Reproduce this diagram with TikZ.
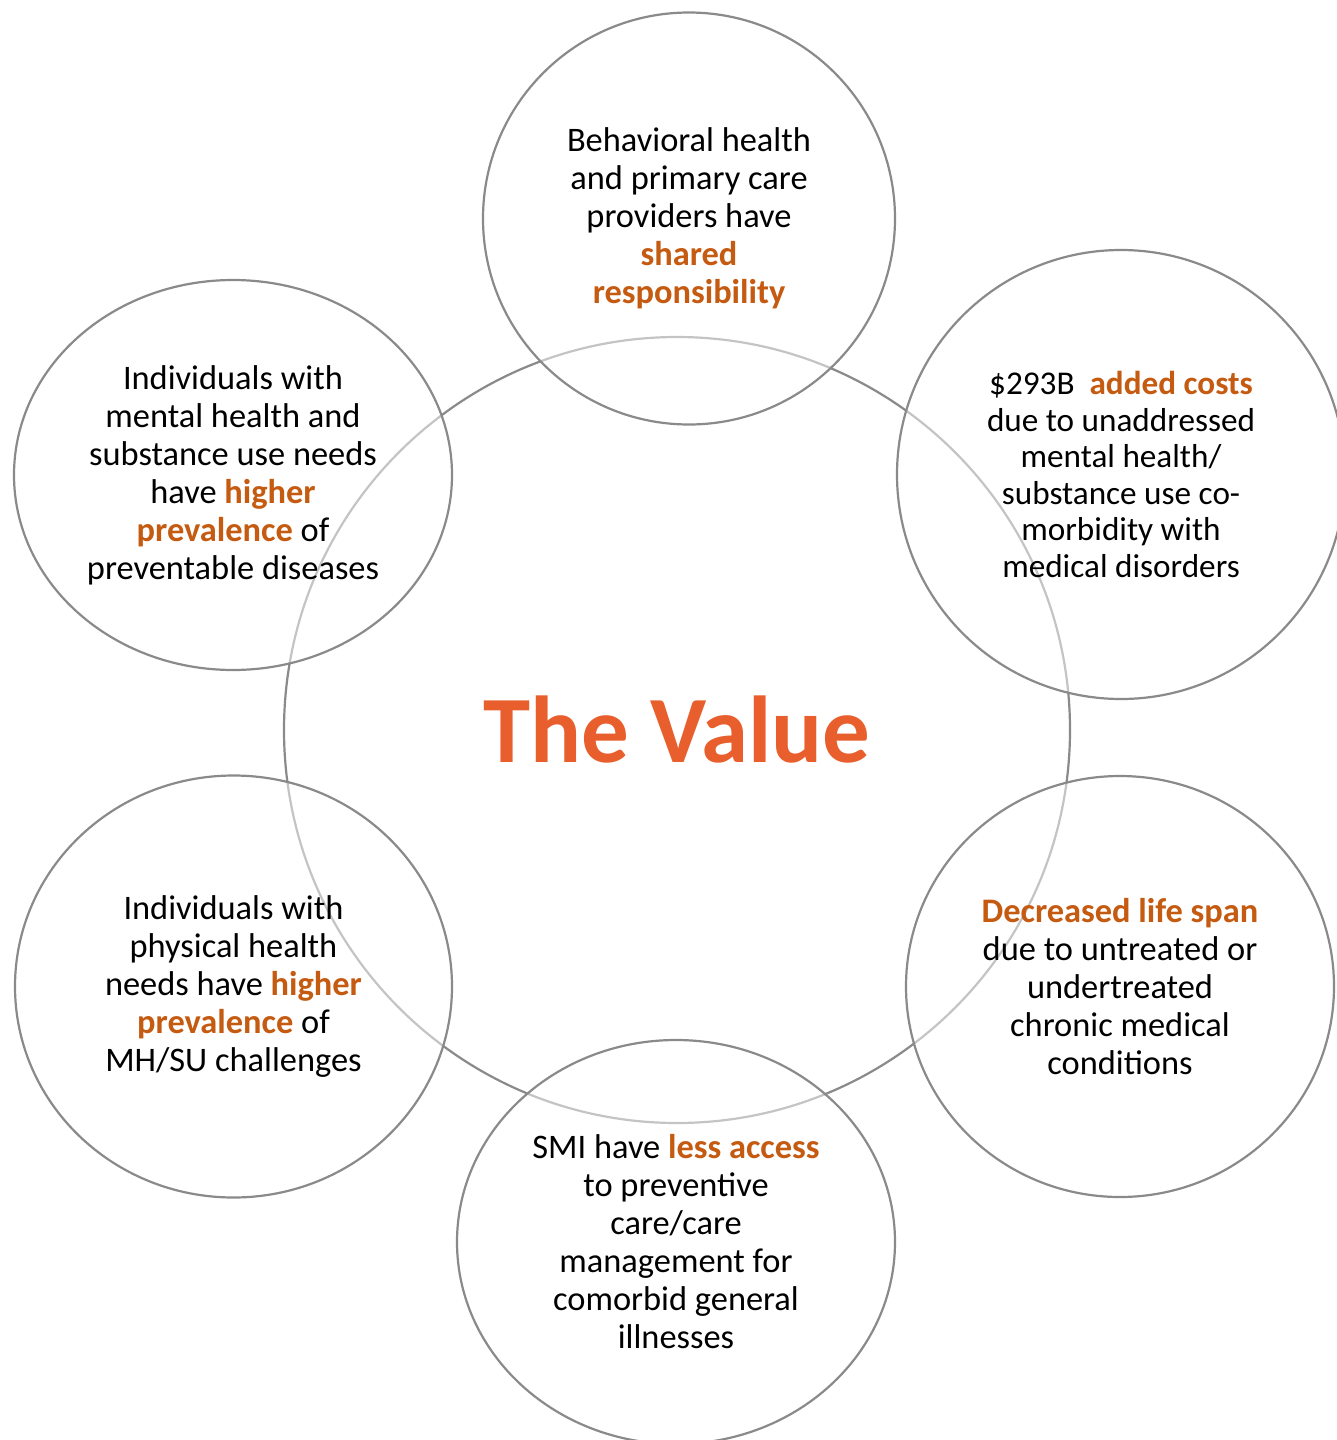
\documentclass[tikz,border=0pt]{standalone}
\usepackage{fontspec}
\setmainfont{Carlito}
\usepackage{xcolor}
\usetikzlibrary{shapes.geometric}
\definecolor{RingGray}{RGB}{138,138,138}
\definecolor{KeyOrange}{RGB}{197,90,17}
\definecolor{TitleOrange}{RGB}{232,94,44}
\newcommand{\hl}[1]{\textbf{\textcolor{KeyOrange}{#1}}}

\begin{document}
\begin{tikzpicture}[x=0.5pt,y=-0.5pt,every node/.style={font=\fontsize{17.2}{19}\selectfont}]
\tikzset{bubble/.style={ellipse,draw=RingGray,line width=1.1pt,fill=white,fill opacity=0.5,text opacity=1,inner sep=0pt,align=center}}
\useasboundingbox (0,0) rectangle (1337,1440);
% centre ring first, the bubbles lie over it
\node[circle,draw=RingGray,line width=1.1pt,minimum size=393pt,inner sep=0pt,text=TitleOrange,font=\fontsize{47.5}{50}\selectfont\bfseries] (value) at (677,730) {The Value};
\node[bubble,minimum width=206pt,minimum height=206pt] (shared) at (689,218.5) {Behavioral health\\and primary care\\providers have\\\hl{shared}\\\hl{responsibility}};
\node[bubble,minimum width=224pt,minimum height=224.5pt,font=\fontsize{16.6}{18.3}\selectfont] (costs) at (1121,474.5) {\$293B~ \hl{added costs}\\due to unaddressed\\mental health/\\substance use co-\\morbidity with\\medical disorders};
\node[bubble,minimum width=219pt,minimum height=195pt] (mental) at (233,475) {Individuals with\\mental health and\\substance use needs\\have \hl{higher}\\\hl{prevalence} of\\preventable diseases};
\node[bubble,minimum width=218.5pt,minimum height=211pt] (physical) at (233.5,986.5) {Individuals with\\physical health\\needs have \hl{higher}\\\hl{prevalence} of\\MH/SU challenges};
\node[bubble,minimum width=214pt,minimum height=210.5pt] (lifespan) at (1120,986.5) {\hl{Decreased life span}\\due to untreated or\\undertreated\\chronic medical\\conditions};
\node[bubble,minimum width=219pt,minimum height=202pt] (access) at (676,1242) {SMI have \hl{less access}\\to preventive\\care/care\\management for\\comorbid general\\illnesses};
\end{tikzpicture}
\end{document}
